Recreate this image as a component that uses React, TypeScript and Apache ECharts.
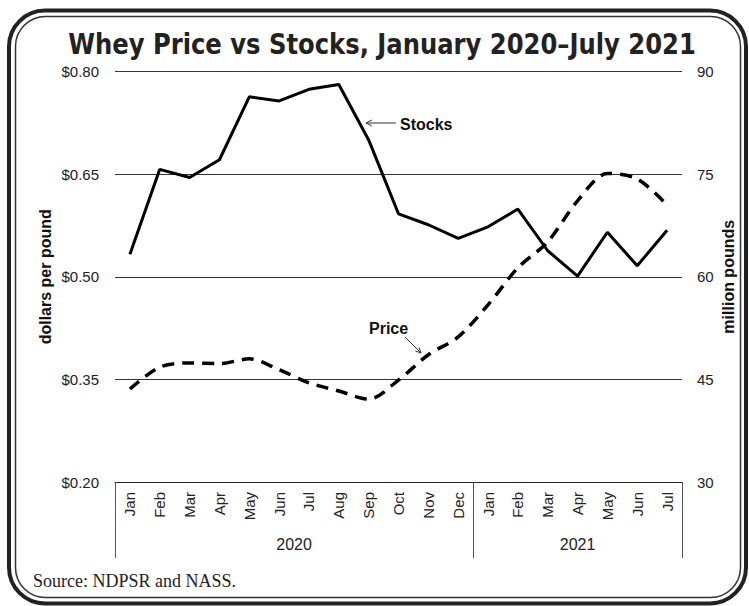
import React, { useEffect, useRef } from 'react';
import * as echarts from 'echarts';

const months = ['Jan', 'Feb', 'Mar', 'Apr', 'May', 'Jun', 'Jul', 'Aug', 'Sep', 'Oct', 'Nov', 'Dec', 'Jan', 'Feb', 'Mar', 'Apr', 'May', 'Jun', 'Jul'];
const stocks = [63.3, 75.7, 74.5, 77.1, 86.3, 85.7, 87.4, 88.1, 80.0, 69.2, 67.6, 65.6, 67.3, 69.9, 63.8, 60.1, 66.5, 61.6, 66.8];
const price = [0.336, 0.368, 0.374, 0.373, 0.38, 0.364, 0.345, 0.333, 0.321, 0.349, 0.386, 0.412, 0.459, 0.513, 0.551, 0.611, 0.651, 0.643, 0.605];
const years = ['2020', '2021'];
const yearBounds = [0, 12, 19];
const priceAxis = { min: 0.2, max: 0.8, interval: 0.15 };
const stockAxis = { min: 30, max: 90, interval: 15 };

const TITLE = 'Whey Price vs Stocks, January 2020\u2013July 2021';
const SOURCE = 'Source: NDPSR and NASS.';

export default function App() {
  const ref = useRef<HTMLDivElement>(null);
  useEffect(() => {
    document.body.style.margin = '0';
    if (!ref.current) return;
    const chart = echarts.init(ref.current, undefined, { renderer: 'svg' });
    const yearCenters = years.map((_, i) => (yearBounds[i] + yearBounds[i + 1]) / 2);
    const sans = 'Liberation Sans, Arial, sans-serif';
    chart.setOption({
      animation: false,
      backgroundColor: '#fff',
      grid: { left: 115, right: 67, top: 71.5, bottom: 124, containLabel: false, outerBoundsMode: 'none' },
      xAxis: [
        {
          type: 'category',
          data: months,
          boundaryGap: true,
          axisLine: { show: true, lineStyle: { color: '#222', width: 1 } },
          axisTick: { show: false },
          axisLabel: { interval: 0, rotate: 90, margin: 10, fontSize: 15, fontFamily: sans, color: '#222' },
          splitLine: { show: false },
        },
        {
          type: 'value',
          position: 'bottom',
          min: 0,
          max: 19,
          axisLine: { show: false },
          splitLine: { show: false },
          axisTick: { show: true, customValues: yearBounds, length: 76, inside: false, lineStyle: { color: '#555', width: 1 } },
          axisLabel: {
            show: true,
            customValues: yearCenters,
            margin: 54,
            fontSize: 16,
            fontFamily: sans,
            color: '#222',
            formatter: (v: number) => {
              const i = yearCenters.findIndex((c) => Math.abs(c - v) < 1e-6);
              return i >= 0 ? years[i] : '';
            },
          },
        },
      ],
      yAxis: [
        {
          type: 'value',
          position: 'left',
          min: priceAxis.min,
          max: priceAxis.max,
          interval: priceAxis.interval,
          name: 'dollars per pound',
          nameLocation: 'middle',
          nameGap: 62,
          nameMoveOverlap: false,
          nameTextStyle: { fontSize: 16, fontWeight: 'bold', fontFamily: sans, color: '#111' },
          axisLine: { show: false },
          axisTick: { show: false },
          axisLabel: { margin: 16, fontSize: 15, fontFamily: sans, color: '#222', formatter: (v: number) => '$' + v.toFixed(2) },
          splitLine: { show: true, lineStyle: { color: '#333', width: 1 } },
        },
        {
          type: 'value',
          position: 'right',
          min: stockAxis.min,
          max: stockAxis.max,
          interval: stockAxis.interval,
          name: 'million pounds',
          nameLocation: 'middle',
          nameGap: 38,
          nameMoveOverlap: false,
          nameTextStyle: { fontSize: 16, fontWeight: 'bold', fontFamily: sans, color: '#111' },
          axisLine: { show: false },
          axisTick: { show: false },
          axisLabel: { margin: 15, fontSize: 15, fontFamily: sans, color: '#222' },
          splitLine: { show: false },
        },
      ],
      series: [
        {
          name: 'Stocks',
          type: 'line',
          xAxisIndex: 0,
          yAxisIndex: 1,
          data: stocks,
          symbol: 'none',
          lineStyle: { color: '#000', width: 3 },
          z: 3,
        },
        {
          name: 'Price',
          type: 'line',
          xAxisIndex: 0,
          yAxisIndex: 0,
          data: price,
          symbol: 'none',
          smooth: 0.3,
          lineStyle: { color: '#000', width: 3.5, type: [12, 8] },
          z: 3,
        },
      ],
      graphic: [
        {
          type: 'rect',
          shape: { x: 9, y: 10.5, width: 737, height: 593, r: 36 },
          style: { fill: 'none', stroke: '#222', lineWidth: 4 },
          silent: true,
        },
        {
          type: 'rect',
          shape: { x: 15.5, y: 16.5, width: 725, height: 581, r: 30 },
          style: { fill: 'none', stroke: '#333', lineWidth: 1.5 },
          silent: true,
        },
        {
          type: 'text',
          x: 382,
          y: 44,
          scaleX: 0.93,
          style: {
            text: TITLE,
            fontSize: 29,
            fontWeight: 'bold',
            fontFamily: 'DejaVu Sans Condensed, DejaVu Sans, sans-serif',
            fill: '#222',
            textAlign: 'center',
            textVerticalAlign: 'middle',
          },
        },
        {
          type: 'text',
          x: 33,
          y: 581,
          style: {
            text: SOURCE,
            fontSize: 18,
            fontFamily: 'Liberation Serif, Times New Roman, serif',
            fill: '#222',
            textAlign: 'left',
            textVerticalAlign: 'middle',
          },
        },
        {
          type: 'text',
          x: 400,
          y: 124,
          style: { text: 'Stocks', fontSize: 16, fontWeight: 'bold', fontFamily: sans, fill: '#111', textAlign: 'left', textVerticalAlign: 'middle' },
        },
        { type: 'line', shape: { x1: 396, y1: 123, x2: 366, y2: 123 }, style: { stroke: '#333', lineWidth: 1 } },
        { type: 'polyline', shape: { points: [[372, 120], [366, 123], [372, 126]] }, style: { stroke: '#333', lineWidth: 1, fill: 'none' } },
        {
          type: 'text',
          x: 369,
          y: 328,
          style: { text: 'Price', fontSize: 16, fontWeight: 'bold', fontFamily: sans, fill: '#111', textAlign: 'left', textVerticalAlign: 'middle' },
        },
        { type: 'line', shape: { x1: 405, y1: 337, x2: 421, y2: 353 }, style: { stroke: '#333', lineWidth: 1 } },
        { type: 'polyline', shape: { points: [[415.4, 351], [421, 353], [419, 347.4]] }, style: { stroke: '#333', lineWidth: 1, fill: 'none' } },
      ],
    });
    return () => chart.dispose();
  }, []);
  return <div ref={ref} style={{ position: 'absolute', left: 0, top: 0, width: 749, height: 606 }} />;
}
